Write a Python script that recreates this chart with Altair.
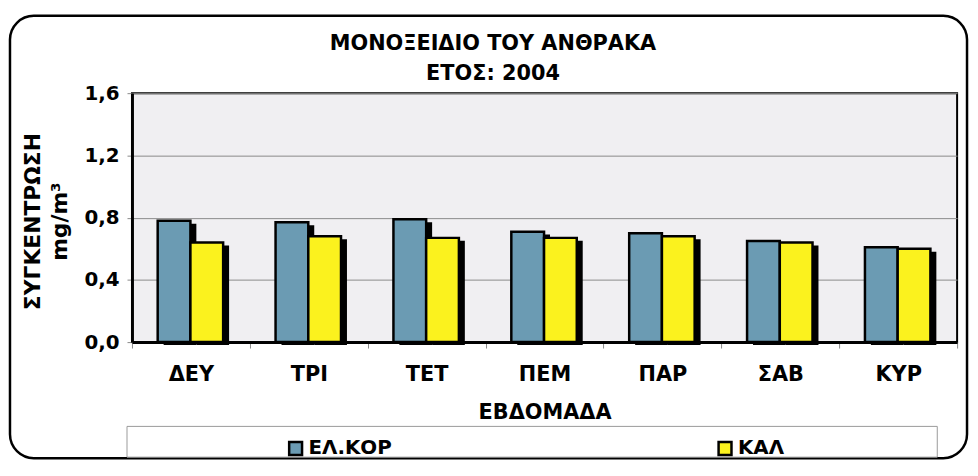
import altair as alt
import pandas as pd

days = ["ΔΕΥ", "ΤΡΙ", "ΤΕΤ", "ΠΕΜ", "ΠΑΡ", "ΣΑΒ", "ΚΥΡ"]
elkor = [0.78, 0.77, 0.79, 0.71, 0.70, 0.65, 0.61]
kal = [0.64, 0.68, 0.67, 0.67, 0.68, 0.64, 0.60]
series = ["ΕΛ.ΚΟΡ", "ΚΑΛ"]
colors = ["#6b9bb3", "#fbf21e"]
yticks = [0, 0.4, 0.8, 1.2, 1.6]

df = pd.DataFrame({
    "day": days * 2,
    "series": [series[0]] * len(days) + [series[1]] * len(days),
    "value": elkor + kal,
})
deco = pd.DataFrame({"k": [0]})

FONT = "DejaVu Sans"

x = alt.X(
    "day:N", sort=days,
    scale=alt.Scale(paddingInner=0, paddingOuter=0),
    axis=alt.Axis(
        title="ΕΒΔΟΜΑΔΑ", labelAngle=0, labelFont=FONT, labelFontSize=21,
        labelFontWeight="bold", labelColor="black", labelPadding=16,
        tickBand="extent", tickSize=6, tickColor="#888888", tickWidth=1,
        domainColor="black", domainWidth=3,
        titleFont=FONT, titleFontSize=21, titleFontWeight="bold", titleColor="black",
        titleY=71, titleBaseline="middle",
    ),
)
y = alt.Y(
    "value:Q",
    scale=alt.Scale(domain=[0, 1.6], nice=False, zero=True),
    axis=alt.Axis(
        values=yticks, labelExpr="replace(format(datum.value, '.1f'), '.', ',')",
        labelFont=FONT, labelFontSize=20, labelFontWeight="bold", labelColor="black",
        labelPadding=8, tickSize=5, tickColor="#888888",
        domainColor="black", domainWidth=3,
        grid=True, gridColor="#8a8a8a", gridWidth=1,
        title=["ΣΥΓΚΕΝΤΡΩΣΗ", "mg/m³"], titleFont=FONT, titleFontSize=22,
        titleFontWeight="bold", titleColor="black", titleLineHeight=27,
        titleX=-100, titleY=129, titleAlign="center", titleBaseline="middle", titleAngle=270,
    ),
)

base = alt.Chart(df).encode(x=x, y=y)

color = alt.Color(
    "series:N",
    scale=alt.Scale(domain=series, range=colors),
    legend=alt.Legend(
        title=None, orient="none", legendX=155, legendY=348, direction="horizontal",
        symbolType="square", symbolSize=169, symbolStrokeColor="black",
        symbolStrokeWidth=2.5, labelFont=FONT, labelFontSize=20,
        labelFontWeight="bold", labelColor="black", columnPadding=324, labelOffset=3,
    ),
)

BW = 33
OFF_A = -17
OFF_B = 16

def only(name):
    return alt.datum.series == name

shadow_a = base.transform_filter(only(series[0])).mark_bar(
    color="black", width=BW, xOffset=OFF_A + 6, yOffset=3)
bar_a = base.transform_filter(only(series[0])).mark_bar(
    width=BW, xOffset=OFF_A, stroke="black", strokeWidth=2.5).encode(color=color)
shadow_b = base.transform_filter(only(series[1])).mark_bar(
    color="black", width=BW, xOffset=OFF_B + 6, yOffset=3)
bar_b = base.transform_filter(only(series[1])).mark_bar(
    width=BW, xOffset=OFF_B, stroke="black", strokeWidth=2.5).encode(color=color)

frame = alt.Chart(deco).mark_rect(
    fill=None, stroke="black", strokeWidth=2.5, cornerRadius=24
).encode(x=alt.value(-123), x2=alt.value(842), y=alt.value(-78), y2=alt.value(368))

legend_box = alt.Chart(deco).mark_rect(
    fill="white", stroke="#9a9a9a", strokeWidth=1
).encode(x=alt.value(-5), x2=alt.value(812), y=alt.value(336), y2=alt.value(367))

chart = alt.layer(frame, legend_box, shadow_a, bar_a, shadow_b, bar_b).properties(
    width=832, height=251,
    autosize=alt.AutoSizeParams(type="none"),
    padding={"left": 125, "top": 84, "right": 13, "bottom": 118},
    title=alt.Title(
        ["ΜΟΝΟΞΕΙΔΙΟ ΤΟΥ ΑΝΘΡΑΚΑ", "ΕΤΟΣ: 2004"], font=FONT, fontSize=21,
        fontWeight="bold", lineHeight=30, anchor="middle", dx=-52, offset=-87,
        baseline="alphabetic", color="black",
    ),
).configure(background="white").configure_view(
    stroke="black", strokeWidth=2, fill="#f0eff2"
)

chart.save("out.html", embed_options={"renderer": "svg", "actions": False})
